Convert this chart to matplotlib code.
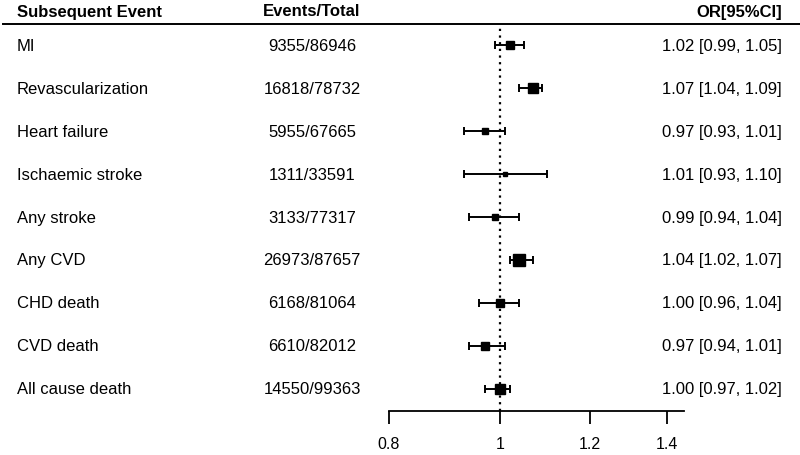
import numpy as np
import matplotlib.pyplot as plt
from matplotlib.lines import Line2D
from matplotlib.transforms import blended_transform_factory

events = ["MI", "Revascularization", "Heart failure", "Ischaemic stroke",
          "Any stroke", "Any CVD", "CHD death", "CVD death", "All cause death"]
counts = ["9355/86946", "16818/78732", "5955/67665", "1311/33591",
          "3133/77317", "26973/87657", "6168/81064", "6610/82012", "14550/99363"]
odds = [1.02, 1.07, 0.97, 1.01, 0.99, 1.04, 1.00, 0.97, 1.00]
lower = [0.99, 1.04, 0.93, 0.93, 0.94, 1.02, 0.96, 0.94, 0.97]
upper = [1.05, 1.09, 1.01, 1.10, 1.04, 1.07, 1.04, 1.01, 1.02]
weight = [8, 10, 6, 3.5, 5.5, 11, 7, 7, 9]   # relative box size
ticks = [0.8, 1, 1.2, 1.4]

plt.rcParams['font.family'] = ['Liberation Sans', 'DejaVu Sans']

W, H = 800, 456
fig = plt.figure(figsize=(W / 100, H / 100), dpi=100)

n = len(events)
rows = np.arange(n)
ax = fig.add_axes([389 / W, 1 - 412 / H, (684 - 389) / W, (412 - 28) / H])
ax.set_xscale('log')
ax.set_xlim(0.8, 1.45)
ax.set_ylim(n - 1 + 0.512, -0.419)

ors = np.array(odds)
ax.errorbar(ors, rows, xerr=[ors - np.array(lower), np.array(upper) - ors],
            fmt='none', ecolor='black', elinewidth=1.4, capsize=2.6, capthick=1.4)
for r, o, w in zip(rows, ors, weight):
    ax.plot(o, r, marker='s', color='black', markersize=w * 0.75, linestyle='none')
ax.axvline(1, color='black', linestyle=(0, (1, 2)), linewidth=1.6)

for s in ['top', 'left', 'right']:
    ax.spines[s].set_visible(False)
ax.spines['bottom'].set_linewidth(1.3)
ax.set_yticks([])
ax.set_xticks(ticks)
ax.set_xticklabels(['0.8', '1', '1.2', '1.4'])
ax.xaxis.set_minor_locator(plt.NullLocator())
ax.tick_params(axis='x', direction='out', length=9.5, width=1.3, pad=8.5, labelsize=11.5)

trans = blended_transform_factory(fig.transFigure, ax.transData)
for r, ev, c, o, lo, hi in zip(rows, events, counts, odds, lower, upper):
    ax.text(17 / W, r, ev, transform=trans, ha='left', va='center', fontsize=12)
    ax.text(312 / W, r, c, transform=trans, ha='center', va='center', fontsize=12)
    ax.text(782 / W, r, f"{o:.2f} [{lo:.2f}, {hi:.2f}]", transform=trans,
            ha='right', va='center', fontsize=12)

hy = 1 - 12 / H
fig.text(17 / W, hy, "Subsequent Event", ha='left', va='center', fontsize=12, fontweight='bold')
fig.text(312 / W, hy, "Events/Total", ha='center', va='center', fontsize=12, fontweight='bold')
fig.text(782 / W, hy, "OR[95%CI]", ha='right', va='center', fontsize=12, fontweight='bold')
fig.add_artist(Line2D([3 / W, 1], [1 - 25 / H, 1 - 25 / H], color='black', linewidth=1.4,
                      transform=fig.transFigure))

fig.savefig('out.png', dpi=100)
